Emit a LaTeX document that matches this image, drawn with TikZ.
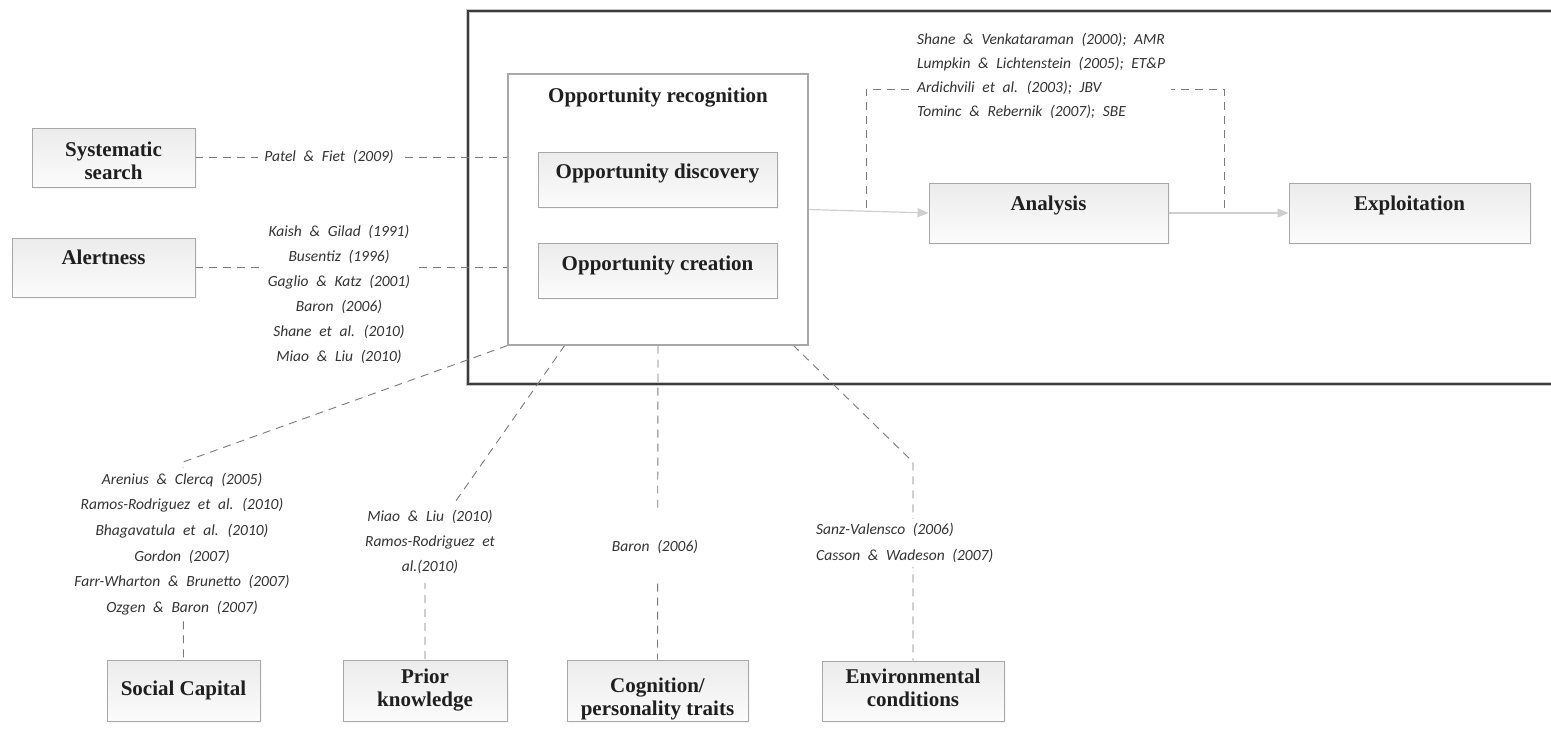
\documentclass[tikz,border=0pt]{standalone}
\usepackage{fontspec}
\usetikzlibrary{arrows.meta,shadows,backgrounds}
\newfontfamily\lblfont{Liberation Serif}
\newfontfamily\citefont[WordSpace=2.2]{Carlito}
\definecolor{boxline}{HTML}{A8A8A8}
\definecolor{dashcol}{HTML}{7A7A7A}
\definecolor{arrcol}{HTML}{CFCFCF}
\definecolor{framecol}{HTML}{3C3C3C}
\begin{document}
\begin{tikzpicture}[x=1pt,y=-1pt,
  box/.style={draw=boxline, line width=0.9pt, top color=gray!15, bottom color=gray!3,
    drop shadow={opacity=0.07, shadow xshift=2pt, shadow yshift=-2pt},
    font=\lblfont\bfseries\fontsize{21}{23}\selectfont, text=black!88,
    align=center, inner sep=0pt},
  holder/.style={draw=boxline, line width=1.1pt, fill=white,
    font=\lblfont\bfseries\fontsize{21}{23}\selectfont, text=black!88,
    align=center, inner sep=0pt},
  cite/.style={fill=white, text=black!80, inner xsep=6pt, inner ysep=3pt,
    font=\citefont\itshape\fontsize{15.5}{25}\selectfont},
  dsh/.style={draw=dashcol, line width=0.9pt, dash pattern=on 8pt off 6pt},
  flow/.style={draw=arrcol, line width=1.2pt, -{Triangle[length=11pt,width=9pt,fill=arrcol]}}
]
\useasboundingbox (0,0) rectangle (1551,732);

% process chain
\node[holder, minimum width=300, text height=28, text depth=243] (orbox) at (658,209.5) {Opportunity recognition};
\node[box, minimum width=239, text height=26, text depth=29] (disc) at (657.5,179.5) {Opportunity discovery};
\node[box, minimum width=239, text height=27, text depth=28] (crea) at (657.5,270.5) {Opportunity creation};
\node[box, minimum width=239, text height=27, text depth=33] (anl) at (1048.5,213) {Analysis};
\node[box, minimum width=241, text height=27, text depth=33] (expl) at (1409.5,213) {Exploitation};

% antecedents on the left (two-line boxes: height counts to the last baseline)
\node[box, minimum width=163, text height=51, text depth=8] (sys) at (113.5,157.5) {Systematic\\search};
\node[box, minimum width=183, text height=26, text depth=33] (alt) at (103.5,267.5) {Alertness};

% antecedents below
\node[box, minimum width=153, text height=35, text depth=26] (soc) at (183.5,690.5) {Social Capital};
\node[box, minimum width=164, text height=46, text depth=15] (pri) at (425,690.5) {Prior\\knowledge};
\node[box, minimum width=181, text height=55, text depth=6] (cog) at (657.5,690.5) {Cognition/\\personality traits};
\node[box, minimum width=182, text height=45, text depth=15] (env) at (913,691) {Environmental\\conditions};

% references
\node[cite] (cpatel) at (329,157) {Patel \& Fiet (2009)};
\node[cite, align=center] (calert) at (339,294) {Kaish \& Gilad (1991)\\Busentiz (1996)\\Gaglio \& Katz (2001)\\Baron (2006)\\Shane et al. (2010)\\Miao \& Liu (2010)};
\node[cite, align=left, anchor=west, font=\citefont\itshape\fontsize{15.5}{24}\selectfont] (ctop) at (911,76) {Shane \& Venkataraman (2000); AMR\\Lumpkin \& Lichtenstein (2005); ET\&P\\Ardichvili et al. (2003); JBV\\Tominc \& Rebernik (2007); SBE};
\node[cite, align=center, inner ysep=5pt, font=\citefont\itshape\fontsize{15.5}{25.6}\selectfont] (csoc) at (182,544) {Arenius \& Clercq (2005)\\Ramos-Rodriguez et al. (2010)\\Bhagavatula et al. (2010)\\Gordon (2007)\\Farr-Wharton \& Brunetto (2007)\\Ozgen \& Baron (2007)};
\node[cite, align=center, inner ysep=9pt] (cpri) at (430,542) {Miao \& Liu (2010)\\Ramos-Rodriguez et\\al.(2010)};
\node[cite, minimum height=72] (ccog) at (655,547) {Baron (2006)};
\node[cite, align=left, anchor=west, inner ysep=4pt, font=\citefont\itshape\fontsize{15.5}{26}\selectfont] (cenv) at (810,543) {Sanz-Valensco (2006)\\Casson \& Wadeson (2007)};

% bend points of the connectors
\coordinate (bl) at (866,208);
\coordinate (blt) at (866,89);
\coordinate (brt) at (1224,89);
\coordinate (br) at (1224,208);
\coordinate (sbend) at (183,462);
\coordinate (pstart) at (565,345);
\coordinate (pbend) at (425,545);
\coordinate (estart) at (793,345);
\coordinate (ebend) at (913,462);
\coordinate (fa) at (1551,11);
\coordinate (fb) at (468,11);
\coordinate (fc) at (468,384);
\coordinate (fd) at (1551,384);

\begin{scope}[on background layer]
  % frame around the process
  \draw[gray!45, line width=4.2pt] (fa) -- (fb) -- (fc) -- (fd);
  \draw[framecol, line width=2pt] (fa) -- (fb) -- (fc) -- (fd);
  % flow
  \draw[flow] (orbox.east) -- (anl.west);
  \draw[flow] (anl.east) -- (expl.west);
  \draw[dsh] (bl) -- (blt) -- (brt) -- (br);
  % links to the antecedents
  \draw[dsh] (sys.east) -- (sys.east -| orbox.west);
  \draw[dsh] (alt.east) -- (alt.east -| orbox.west);
  \draw[dsh] (orbox.south west) -- (sbend) -- (soc.north);
  \draw[dsh] (pstart) -- (pbend) -- (pri.north);
  \draw[dsh] (orbox.south) -- (cog.north);
  \draw[dsh] (estart) -- (ebend) -- (env.north);
\end{scope}
\end{tikzpicture}
\end{document}
